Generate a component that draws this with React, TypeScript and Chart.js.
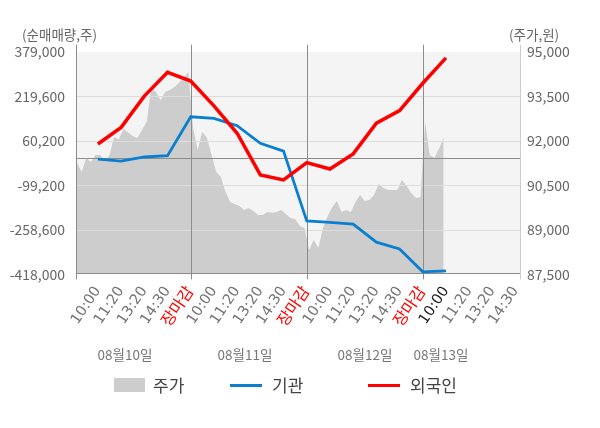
import React, { useEffect, useRef } from 'react';
import { Chart, registerables } from 'chart.js';

Chart.register(...registerables);

// x axis is measured in "slots": every trading day has 5 of them
const timeLabels = [
  '10:00', '11:20', '13:20', '14:30', '장마감',
  '10:00', '11:20', '13:20', '14:30', '장마감',
  '10:00', '11:20', '13:20', '14:30', '장마감',
  '10:00', '11:20', '13:20', '14:30',
];
const dayLabels = ['08월10일', '08월11일', '08월12일', '08월13일'];

// net buying volume (shares), one value per slot starting at slot 1
const institution = [
  -6000, -13000, 2000, 7000, 146000, 140000, 114000, 51000,
  23000, -227000, -232000, -238000, -303000, -327000, -409000, -406000,
];
const foreign = [
  48500, 108000, 220000, 305000, 274000, 185000, 87000, -62000,
  -80000, -18000, -41000, 13000, 123000, 168000, 266000, 357000,
];

// stock price (won), 5 samples per slot
const prices = [
  91250, 90950, 91420, 91280, 91520, 91520, 91320, 91520, 92130, 92030,
  92400, 92280, 92160, 92090, 92360, 92630, 93780, 93640, 93370, 93640,
  93710, 93810, 93960, 94110, 94320, 92430, 91690, 92300, 92090, 91520,
  90950, 90780, 90270, 89940, 89870, 89800, 89670, 89730, 89630, 89500,
  89500, 89600, 89570, 89600, 89670, 89530, 89400, 89360, 89130, 89060,
  88320, 88660, 88390, 89060, 89460, 89770, 89970, 89600, 89670, 89600,
  89940, 90170, 89970, 90000, 90170, 90540, 90410, 90340, 90340, 90340,
  90680, 90480, 90240, 90070, 90100, 92630, 91520, 91420, 91720, 92130,
];

const leftTicks = [379000, 219600, 60200, -99200, -258600, -418000];
const rightTicks = [95000, 93500, 92000, 90500, 89000, 87500];

const PRICE_START = 0.1;
const PRICE_STEP = 0.2;
const CURRENT_LABEL = 15; // today's 10:00 is drawn darker

const RED = '#ff0000';
const BLUE = '#0a7fd0';
const AREA = '#cdcdcd';
const DARK_LINE = '#8c8c8c';

const fmt = (v: number) => v.toLocaleString('en-US');

const framePlugin = {
  id: 'frame',
  beforeDatasetsDraw(chart: any) {
    const { ctx, chartArea: a } = chart;
    ctx.save();
    ctx.fillStyle = '#f4f4f4';
    ctx.fillRect(a.left, a.top, a.right - a.left, a.bottom - a.top);
    ctx.restore();
  },
  afterDatasetDraw(chart: any, args: any) {
    if (args.index !== 0) return;
    const { ctx, chartArea: a, scales } = chart;
    const yl = scales.y;
    const xs = scales.x;
    const h = (y: number, color: string) => {
      const py = Math.round(y) + 0.5;
      ctx.strokeStyle = color;
      ctx.beginPath();
      ctx.moveTo(a.left, py);
      ctx.lineTo(a.right, py);
      ctx.stroke();
    };
    const v = (x: number, y0: number, y1: number, color: string) => {
      const px = Math.round(x) + 0.5;
      ctx.strokeStyle = color;
      ctx.beginPath();
      ctx.moveTo(px, y0);
      ctx.lineTo(px, y1);
      ctx.stroke();
    };
    ctx.save();
    ctx.lineWidth = 1;
    leftTicks.slice(1, -1).forEach((t) => h(yl.getPixelForValue(t), '#dcdcdc'));
    h(yl.getPixelForValue(0), DARK_LINE);
    timeLabels.forEach((l, i) => {
      if (l === '장마감') v(xs.getPixelForValue(i + 1), a.top - 7, a.bottom + 5, DARK_LINE);
    });
    v(a.left, a.top - 7, a.bottom + 5, DARK_LINE);
    v(a.right, a.top - 7, a.bottom + 5, '#cccccc');
    h(a.bottom - 1, DARK_LINE);
    ctx.restore();
  },
};

const App: React.FC = () => {
  const chartRef = useRef<HTMLCanvasElement>(null);

  useEffect(() => {
    if (!chartRef.current) return;
    const ctx = chartRef.current.getContext('2d');
    if (!ctx) return;

    const chart = new Chart(ctx, {
      type: 'line',
      data: {
        datasets: [
          {
            label: '주가',
            data: prices.map((p, i) => ({ x: PRICE_START + i * PRICE_STEP, y: p })),
            yAxisID: 'y2',
            backgroundColor: AREA,
            borderWidth: 0,
            pointRadius: 0,
            fill: 'start',
            order: 3,
          },
          {
            label: '기관',
            data: institution.map((n, i) => ({ x: i + 1, y: n })),
            yAxisID: 'y',
            borderColor: BLUE,
            borderWidth: 2.8,
            pointRadius: 0,
            fill: false,
            order: 1,
          },
          {
            label: '외국인',
            data: foreign.map((n, i) => ({ x: i + 1, y: n })),
            yAxisID: 'y',
            borderColor: RED,
            borderWidth: 3.5,
            pointRadius: 0,
            fill: false,
            order: 0,
          },
        ],
      },
      options: {
        animation: false,
        responsive: true,
        maintainAspectRatio: false,
        layout: { padding: { top: 51.7, left: 0, right: 0, bottom: 0 } },
        plugins: {
          legend: { display: false },
          tooltip: { enabled: false },
        },
        scales: {
          x: {
            type: 'linear',
            min: 0.056,
            max: 19.19,
            afterBuildTicks: (s: any) => {
              s.ticks = timeLabels.map((_, i) => ({ value: i + 1 }));
            },
            afterFit: (s: any) => {
              s.height = 153.7;
            },
            grid: { display: false, drawTicks: false },
            border: { display: false },
            ticks: {
              autoSkip: false,
              minRotation: 56,
              maxRotation: 56,
              padding: 9,
              font: (c: any) => ({
                family: "'DejaVu Sans', 'Noto Sans CJK KR'",
                size: timeLabels[c.index] === '장마감' ? 16 : 14.5,
              }),
              color: (c: any) =>
                timeLabels[c.index] === '장마감' ? RED : c.index === CURRENT_LABEL ? '#222222' : '#747474',
              callback: (val: any) => timeLabels[Math.round(Number(val)) - 1] ?? '',
            },
          },
          y: {
            type: 'linear',
            position: 'left',
            min: -418000,
            max: 379000,
            afterBuildTicks: (s: any) => {
              s.ticks = leftTicks.map((t) => ({ value: t }));
            },
            afterFit: (s: any) => {
              s.width = 76;
            },
            grid: { display: false, drawTicks: false },
            border: { display: false },
            ticks: {
              padding: 11,
              color: '#666666',
              font: { family: "'Noto Sans CJK KR', 'Noto Sans'", size: 14 },
              callback: (val: any) => fmt(Number(val)),
            },
          },
          y2: {
            type: 'linear',
            position: 'right',
            min: 87500,
            max: 95000,
            afterBuildTicks: (s: any) => {
              s.ticks = rightTicks.map((t) => ({ value: t }));
            },
            afterFit: (s: any) => {
              s.width = 80;
            },
            grid: { display: false, drawTicks: false },
            border: { display: false },
            ticks: {
              padding: 7,
              color: '#666666',
              font: { family: "'Noto Sans CJK KR', 'Noto Sans'", size: 14 },
              callback: (val: any) => fmt(Number(val)),
            },
          },
        },
      },
      plugins: [framePlugin],
    } as any);

    return () => {
      chart.destroy();
    };
  }, []);

  const font = "'Noto Sans CJK KR', 'Noto Sans', sans-serif";
  const dayX = [125, 245, 365, 441];
  const legendText = { position: 'absolute' as const, top: 374, lineHeight: '22px', fontSize: 17, color: '#444' };

  return (
    <div style={{ position: 'fixed', left: 0, top: 0, width: 600, height: 428, background: '#fff', fontFamily: font }}>
      <canvas ref={chartRef}></canvas>
      <div style={{ position: 'absolute', left: 22, top: 25, fontSize: 13.5, lineHeight: '18px', color: '#666' }}>(순매매량,주)</div>
      <div style={{ position: 'absolute', left: 509, top: 25, fontSize: 13.5, lineHeight: '18px', color: '#666' }}>(주가,원)</div>
      {dayLabels.map((d, i) => (
        <div
          key={d}
          style={{ position: 'absolute', left: dayX[i] - 40, width: 80, top: 344, textAlign: 'center', fontSize: 13.5, lineHeight: '20px', color: '#777' }}
        >
          {d}
        </div>
      ))}
      <div style={{ position: 'absolute', left: 114, top: 378, width: 31, height: 14, background: AREA }} />
      <div style={{ ...legendText, left: 153 }}>주가</div>
      <div style={{ position: 'absolute', left: 230, top: 384, width: 32, height: 3, background: BLUE }} />
      <div style={{ ...legendText, left: 272 }}>기관</div>
      <div style={{ position: 'absolute', left: 368, top: 384, width: 32, height: 3, background: RED }} />
      <div style={{ ...legendText, left: 410 }}>외국인</div>
    </div>
  );
};

export default App;
